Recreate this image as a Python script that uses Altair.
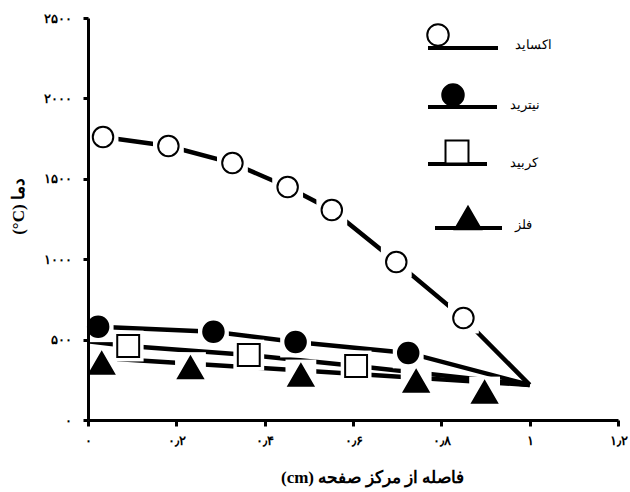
import json
import altair as alt
import pandas as pd

# ---------------- data ----------------
series_names = ["اکساید", "نیترید", "کربید", "فلز"]

oxide_x = [0.034, 0.182, 0.327, 0.452, 0.552, 0.698, 0.850]
oxide_y = [1760, 1704, 1598, 1449, 1306, 983, 634]
nitride_x = [0.023, 0.284, 0.470, 0.725]
nitride_y = [580, 549, 485, 417]
carbide_x = [0.091, 0.364, 0.607]
carbide_y = [460, 404, 336]
metal_x = [0.031, 0.232, 0.482, 0.743, 0.898]
metal_y = [354, 326, 280, 243, 174]

# drawn curves
oxide_line_x = [0.034, 0.182, 0.327, 0.452, 0.552, 0.698, 0.850, 1.0]
oxide_line_y = [1760, 1704, 1598, 1449, 1306, 983, 634, 218]
nitride_line_x = [0.023, 0.284, 0.470, 0.725, 1.0]
nitride_line_y = [580, 549, 485, 417, 218]
carbide_line_x = [0.0, 0.091, 0.364, 0.607, 1.0]
carbide_line_y = [490, 460, 404, 336, 218]
metal_line_x = [0.027, 1.0]
metal_line_y = [386, 218]

x_ticks = [0, 0.2, 0.4, 0.6, 0.8, 1.0, 1.2]
x_tick_labels = ["۰", "۰٫۲", "۰٫۴", "۰٫۶", "۰٫۸", "۱", "۱٫۲"]
y_ticks = [0, 500, 1000, 1500, 2000, 2500]
y_tick_labels = ["۰", "۵۰۰", "۱۰۰۰", "۱۵۰۰", "۲۰۰۰", "۲۵۰۰"]

x_title = "(cm) فاصله از مرکز صفحه"
y_title = "(°C) دما"

# ---------------- styling ----------------
W, H = 530, 402
FONT = "Liberation Serif"

markers = [
    dict(xs=oxide_x, ys=oxide_y, lx=oxide_line_x, ly=oxide_line_y,
         shape="circle", size=420, fill="white"),
    dict(xs=nitride_x, ys=nitride_y, lx=nitride_line_x, ly=nitride_line_y,
         shape="circle", size=420, fill="black"),
    dict(xs=carbide_x, ys=carbide_y, lx=carbide_line_x, ly=carbide_line_y,
         shape="square", size=480, fill="white"),
    dict(xs=metal_x, ys=metal_y, lx=metal_line_x, ly=metal_line_y,
         shape="triangle-up", size=620, fill="black"),
]

x_expr = json.dumps(x_tick_labels, ensure_ascii=False) + "[round(datum.value*5)]"
y_expr = json.dumps(y_tick_labels, ensure_ascii=False) + "[round(datum.value/500)]"

xscale = alt.Scale(domain=[0, 1.2], nice=False, zero=False)
yscale = alt.Scale(domain=[0, 2500], nice=False, zero=False)

x_axis = alt.Axis(
    values=x_ticks, labelExpr=x_expr, grid=False, domainColor="black",
    domainWidth=3, tickColor="black", tickWidth=3, tickSize=6,
    labelPadding=8, labelFontSize=13, labelFont=FONT, labelColor="black",
    labelFontWeight="bold", title=x_title, titleFont=FONT, titleFontSize=17,
    titleFontWeight="bold", titleColor="black", titleX=284, titleY=57,
    titleAlign="center", titleBaseline="middle", zindex=1, labelFlush=False,
)
y_axis = alt.Axis(
    values=y_ticks, labelExpr=y_expr, grid=False, domainColor="black",
    domainWidth=3, tickColor="black", tickWidth=3, tickSize=5,
    labelPadding=12, labelFontSize=13, labelFont=FONT, labelColor="black",
    labelFontWeight="bold", title=y_title, titleFont=FONT, titleFontSize=17,
    titleFontWeight="bold", titleColor="black", titleX=-70, titleY=188,
    titleAlign="center", titleBaseline="middle", titleAngle=270, zindex=1,
    labelFlush=False,
)

X = lambda: alt.X("x:Q", scale=xscale, axis=x_axis)
Y = lambda: alt.Y("y:Q", scale=yscale, axis=y_axis)

line_layers, halo_layers, marker_layers = [], [], []
for m in markers:
    ldf = pd.DataFrame({"x": m["lx"], "y": m["ly"], "o": range(len(m["lx"]))})
    line_layers.append(
        alt.Chart(ldf).mark_line(color="black", strokeWidth=4.5)
        .encode(x=X(), y=Y(), order="o:Q")
    )
    pdf = pd.DataFrame({"x": m["xs"], "y": m["ys"]})
    halo_layers.append(
        alt.Chart(pdf).mark_point(shape="square", size=950, filled=True,
                                   color="white", opacity=1)
        .encode(x=X(), y=Y())
    )
    marker_layers.append(
        alt.Chart(pdf).mark_point(shape=m["shape"], size=m["size"], filled=True,
                                   fill=m["fill"], stroke="black",
                                   strokeWidth=2, opacity=1)
        .encode(x=X(), y=Y())
    )

# ---------------- custom legend (pixel layout) ----------------
legend_layout = [
    dict(l1=340, l2=410, ly=30, sx=350, sy=17, tx=427, ty=27),
    dict(l1=340, l2=409, ly=89, sx=365, sy=77, tx=422, ty=87),
    dict(l1=340, l2=399, ly=146, sx=369, sy=134, tx=422, ty=145),
    dict(l1=347, l2=414, ly=210, sx=380, sy=200, tx=427, ty=207),
]
dummy = pd.DataFrame({"a": [0]})
legend_layers = []
for name, m, p in zip(series_names, markers, legend_layout):
    legend_layers.append(
        alt.Chart(dummy).mark_rule(color="black", strokeWidth=4)
        .encode(x=alt.value(p["l1"]), x2=alt.value(p["l2"]), y=alt.value(p["ly"]))
    )
    legend_layers.append(
        alt.Chart(dummy).mark_point(shape=m["shape"], size=m["size"] * 1.1,
                                    filled=True, fill=m["fill"], stroke="black",
                                    strokeWidth=2, opacity=1)
        .encode(x=alt.value(p["sx"]), y=alt.value(p["sy"]))
    )
    legend_layers.append(
        alt.Chart(dummy).mark_text(text=name, align="left", baseline="middle",
                                   fontSize=13, font=FONT, color="black")
        .encode(x=alt.value(p["tx"]), y=alt.value(p["ty"]))
    )

chart = alt.layer(
    *line_layers, *halo_layers, *marker_layers, *legend_layers
).properties(
    width=W, height=H,
    autosize=alt.AutoSizeParams(type="none"),
    padding={"left": 88, "top": 18, "right": 12, "bottom": 72},
    background="white",
).configure_view(stroke=None)

chart.save("out.html", embed_options={"renderer": "svg", "actions": False})
